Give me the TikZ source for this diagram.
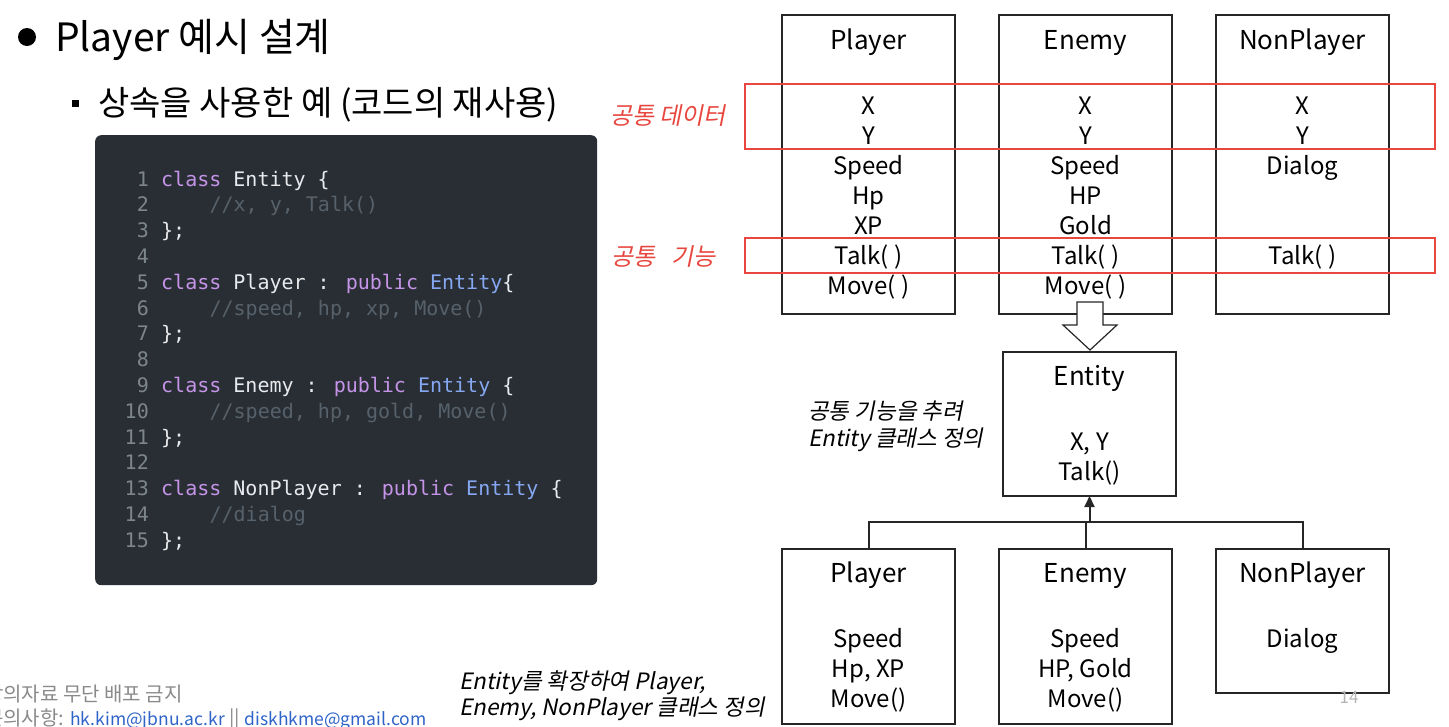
\documentclass[tikz,border=0pt]{standalone}
\usepackage{fontspec}
\setmainfont{Noto Sans CJK KR}
\newfontfamily\notefont[FakeSlant=0.2]{Noto Sans CJK KR}
\newfontfamily\codefont{DejaVu Sans Mono}
\usetikzlibrary{arrows.meta}

\definecolor{boxline}{HTML}{262626}
\definecolor{hlred}{HTML}{E8473F}
\definecolor{codebg}{HTML}{292E34}
\definecolor{codefg}{HTML}{E8EAED}
\definecolor{codekw}{HTML}{C594E8}
\definecolor{codety}{HTML}{86A8F2}
\definecolor{codecm}{HTML}{56616B}
\definecolor{codenum}{HTML}{7D858D}
\definecolor{footgrey}{HTML}{8A8A8A}
\definecolor{linkblue}{HTML}{2E63C8}
\definecolor{pggrey}{HTML}{B4B4B4}

\newcommand{\kw}[1]{\textcolor{codekw}{#1}}
\newcommand{\ty}[1]{\textcolor{codety}{#1}}
\newcommand{\cm}[1]{\textcolor{codecm}{#1}}
\newcommand{\mail}[1]{\textcolor{linkblue}{\fontsize{17.5}{23}\selectfont #1}}

\begin{document}
\begin{tikzpicture}[x=1pt,y=-1pt,
	cls/.style={draw=boxline,line width=1.2pt,minimum width=173pt,inner sep=0pt,outer sep=0pt,anchor=north west},
	txt/.style={anchor=base,font=\fontsize{24}{30}\selectfont,inner sep=0pt},
	ttl/.style={txt,font=\fontsize{26}{30}\selectfont},
	redbox/.style={draw=hlred,line width=1.2pt},
	hl/.style={anchor=base east,text=hlred,font=\notefont\fontsize{24}{28}\selectfont,inner sep=0pt},
	note/.style={anchor=base west,font=\notefont\fontsize{22.5}{27}\selectfont,inner sep=0pt},
	code/.style={anchor=base west,font=\codefont\fontsize{20}{24}\selectfont,text=codefg,inner sep=0pt},
	lnum/.style={anchor=base east,font=\codefont\fontsize{20}{24}\selectfont,text=codenum,inner sep=0pt},
	foot/.style={anchor=base west,font=\fontsize{20}{23}\selectfont,text=footgrey,inner sep=0pt},
	wire/.style={line width=2pt,draw=boxline}]
		\useasboundingbox (0,0) rectangle (1449,726);

		% heading
		\node [circle,fill,inner sep=0pt,minimum size=18pt] (dot) at (27,37) {};
		\node [anchor=base west,font=\fontsize{39}{46}\selectfont,inner sep=0pt] (title) at (55,51) {Player 예시 설계};
		\node [fill,inner sep=0pt,minimum size=7pt] (sq) at (75,103) {};
		\node [anchor=base west,font=\fontsize{34}{39}\selectfont,inner sep=0pt] (sub) at (98,115) {상속을 사용한 예 (코드의 재사용)};

		% code
		\node [fill=codebg,rounded corners=6pt,minimum width=502pt,minimum height=450pt,inner sep=0pt,anchor=north west] (codebox) at (95,135) {};
		\foreach \n in {1,...,15}
			\node [lnum] (num\n) at (149,{186+25.8*(\n-1)}) {\n};
		\node [code] (c1) at (161,186) {\kw{class} Entity \{};
		\node [code] (c2) at (209.4,211.8) {\cm{//x, y, Talk()}};
		\node [code] (c3) at (161,237.6) {\};};
		\node [code] (c5) at (161,289.2) {\kw{class} Player : \kw{public} \ty{Entity}\{};
		\node [code] (c6) at (209.4,315) {\cm{//speed, hp, xp, Move()}};
		\node [code] (c7) at (161,340.8) {\};};
		\node [code] (c9) at (161,392.4) {\kw{class} Enemy : \kw{public} \ty{Entity} \{};
		\node [code] (c10) at (209.4,418.2) {\cm{//speed, hp, gold, Move()}};
		\node [code] (c11) at (161,444) {\};};
		\node [code] (c13) at (161,495.6) {\kw{class} NonPlayer : \kw{public} \ty{Entity} \{};
		\node [code] (c14) at (209.4,521.4) {\cm{//dialog}};
		\node [code] (c15) at (161,547.2) {\};};

		% classes before
		\foreach \nm/\x/\lbl in {pTop/782/Player,eTop/999/Enemy,nTop/1216/NonPlayer} {
			\node [cls,minimum height=299pt] (\nm) at (\x,15) {};
			\node [ttl] (\nm-title) at ({\x+86.5},49) {\lbl};
		}
		\foreach \t [count=\i from 0] in {X,Y,Speed,Hp,XP,Talk( ),Move( )}
			\node [txt] (pTop-\i) at (868.5,{114+30*\i}) {\t};
		\foreach \t [count=\i from 0] in {X,Y,Speed,HP,Gold,Talk( ),Move( )}
			\node [txt] (eTop-\i) at (1085.5,{114+30*\i}) {\t};
		\foreach \t/\i in {X/0,Y/1,Dialog/2,Talk( )/5}
			\node [txt] (nTop-\i) at (1302.5,{114+30*\i}) {\t};

		% common parts
		\draw [redbox] (745,84) rectangle (1435,149);
		\draw [redbox] (745,238) rectangle (1435,273);
		\node [hl] (hlData) at (726,124) {공통 데이터};
		\node [hl] (hlFunc) at (716,265) {공통\ \ \ 기능};

		% extract
		\draw [fill=white,draw=boxline,line width=1.2pt] (1077,302) -- (1103,302) -- (1103,325) -- (1117,325) -- (1090,350) -- (1063,325) -- (1077,325) -- cycle;
		\node [cls,minimum height=144pt] (ent) at (1003,352) {};
		\node [ttl] (ent-title) at (1089.5,385) {Entity};
		\node [txt] (ent-0) at (1089.5,450) {X, Y};
		\node [txt] (ent-1) at (1089.5,480) {Talk()};
		\node [note] (noteEnt1) at (808,419) {공통 기능을 추려};
		\node [note] (noteEnt2) at (808,446) {Entity 클래스 정의};

		% classes after
		\node [cls,minimum height=175pt] (pBot) at (782,549) {};
		\node [cls,minimum height=175pt] (eBot) at (999,549) {};
		\node [cls,minimum height=144pt] (nBot) at (1216,549) {};
		\foreach \nm/\x/\lbl in {pBot/868.5/Player,eBot/1085.5/Enemy,nBot/1302.5/NonPlayer}
			\node [ttl] (\nm-title) at (\x,582) {\lbl};
		\foreach \t [count=\i from 0] in {Speed,{Hp, XP},Move()}
			\node [txt] (pBot-\i) at (868.5,{647+30*\i}) {\t};
		\foreach \t [count=\i from 0] in {Speed,{HP, Gold},Move()}
			\node [txt] (eBot-\i) at (1085.5,{647+30*\i}) {\t};
		\node [txt] (nBot-0) at (1302.5,647) {Dialog};
		\node [note] (noteExt1) at (459,689) {Entity를 확장하여 Player,};
		\node [note] (noteExt2) at (459,715) {Enemy, NonPlayer 클래스 정의};

		% inheritance
		\coordinate (bus) at (1089.5,522);
		\draw [wire] (pBot.north) |- (bus) -| (nBot.north);
		\draw [wire] (eBot.north) -- (eBot.north |- bus);
		\draw [wire,-{Triangle[width=10pt,length=11pt]}] (bus) -- (ent.south);

		% footer
		\node [foot] (foot1) at (-15,701) {강의자료 무단 배포 금지};
		\node [foot] (foot2) at (-15,725) {문의사항: \mail{hk.kim@jbnu.ac.kr} || \mail{diskhkme@gmail.com}};
		\node [anchor=base,font=\fontsize{17}{20}\selectfont,text=pggrey,inner sep=0pt] (pg) at (1349,703) {14};

\end{tikzpicture}
\end{document}
